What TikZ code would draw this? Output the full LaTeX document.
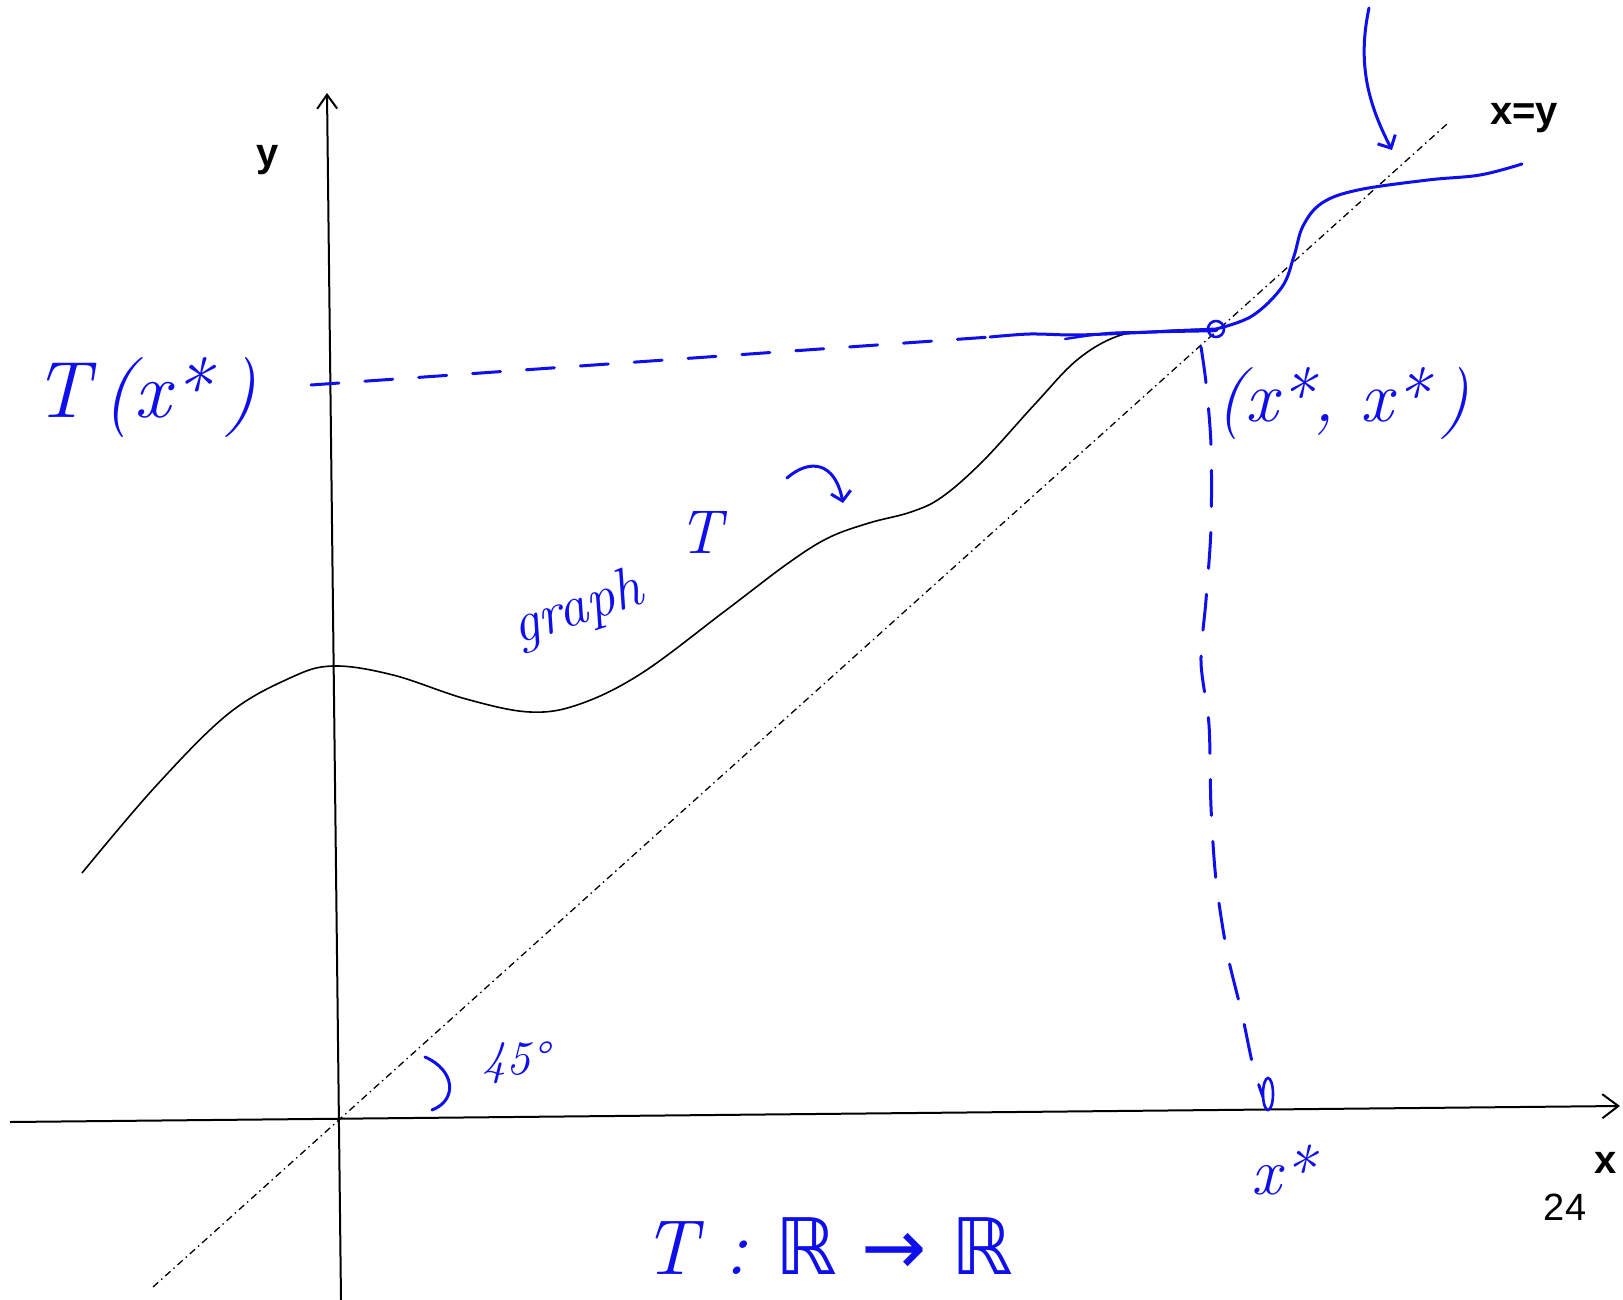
\documentclass[tikz,border=0pt]{standalone}
\usepackage{fontspec}
\newfontfamily\lsans{Liberation Sans}
\newfontfamily\dvsans{DejaVu Sans}
\usetikzlibrary{arrows.meta}
\definecolor{ink}{RGB}{15,15,235}
\begin{document}
\begin{tikzpicture}[x=1pt,y=-1pt,
  axis/.style={line width=2pt,black},
  diag/.style={line width=1.3pt,black,dash pattern=on 7pt off 4pt on 1.5pt off 4pt},
  curve/.style={line width=1.6pt,black},
  inkline/.style={line width=3pt,ink,line cap=round},
  inkdash/.style={inkline,dash pattern=on 28pt off 26pt},
  hand/.style={text=ink,inner sep=0pt},
  typed/.style={inner sep=0pt,font=\lsans\bfseries\fontsize{40}{40}\selectfont}]
\useasboundingbox (0,0) rectangle (1623,1300);
\fill[white] (0,0) rectangle (1623,1300);
% axes
\coordinate (xl) at (10,1122);
\coordinate (xr) at (1620,1106);
\coordinate (yb) at (341,1300);
\coordinate (yt) at (327,93);
\draw[axis,-{Straight Barb[length=16pt,width=24pt,line width=2pt]}] (xl) -- (xr);
\draw[axis,-{Straight Barb[length=14pt,width=20pt,line width=2pt]}] (yb) -- (yt);
% diagonal x=y
\coordinate (d1) at (153,1287);
\coordinate (d2) at (1447,124);
\draw[diag] (d1) -- (d2);
% graph of T
\draw[curve] plot[smooth,tension=0.6] coordinates {(82,873) (155,787) (228,714) (290,678) (333,666) (393,675) (466,699) (530,712) (580,704) (642,673) (725,611) (787,564) (828,538) (869,523) (911,512) (942,497) (983,461) (1035,404) (1077,360) (1118,336) (1159,331) (1211,329)};
% blue continuation
\coordinate (fp) at (1216,329);
\draw[inkline] plot[smooth,tension=0.6] coordinates {(1216,329) (1252,316) (1282,287) (1294,256) (1303,226) (1322,203) (1358,190) (1428,180) (1480,175) (1522,164)};
\draw[inkline] plot[smooth] coordinates {(990,337) (1030,334) (1075,335) (1130,333) (1216,329)};
\draw[inkline,line width=2.4pt] plot[smooth] coordinates {(1065,339) (1110,333) (1160,332) (1216,331)};
\draw[inkline,line width=2.6pt] (fp) circle[radius=8];
% dashed projections
\coordinate (ty) at (311,385);
\coordinate (te) at (990,337);
\draw[inkdash] (ty) -- (te);
\draw[inkdash,dash pattern=on 36pt off 26pt] plot[smooth] coordinates {(1201,347) (1206,383) (1211,445) (1211,528) (1206,600) (1201,662) (1209,725) (1211,807) (1216,880) (1227,952) (1242,1014) (1253,1066) (1263,1097)};
\coordinate (xs) at (1268,1094);
\draw[inkline,line width=2.6pt] (xs) ellipse[x radius=5,y radius=16];
% arrow to blue curve
\coordinate (a1) at (1369,8);
\coordinate (a2) at (1392,150);
\draw[inkline,-{Straight Barb[length=10pt,width=20pt]}] (a1) .. controls (1358,60) and (1366,100) .. (a2);
% arrow to graph
\coordinate (b1) at (787,478);
\coordinate (b2) at (843,503);
\draw[inkline,-{Straight Barb[length=9pt,width=20pt]}] (b1) .. controls (810,458) and (835,462) .. (b2);
% angle mark
\coordinate (g1) at (425,1057);
\coordinate (g2) at (432,1110);
\draw[inkline] (g1) .. controls (455,1070) and (458,1100) .. (g2);
% typed labels
\node[typed] (lxy) at (1524,118) {x=y};
\node[typed] (ly) at (268,160) {y};
\node[typed] (lx) at (1606,1163) {x};
\node[inner sep=0pt,font=\lsans\fontsize{38}{38}\selectfont] (lp) at (1565,1207) {24};
% handwritten labels
\node[hand,font=\fontsize{80}{80}\selectfont\itshape] (lTx) at (145,398) {T\,(x*\,)};
\node[hand,font=\fontsize{72}{72}\selectfont\itshape] (lpt) at (1343,404) {(x*, x*\,)};
\node[hand,font=\fontsize{58}{58}\selectfont\itshape,rotate=18] (lgr) at (578,610) {graph};
\node[hand,font=\fontsize{62}{62}\selectfont\itshape] (lT) at (700,532) {T};
\node[hand,font=\fontsize{48}{48}\selectfont\itshape] (l45) at (515,1063) {45°};
\node[hand,font=\fontsize{66}{66}\selectfont\itshape] (lxs) at (1283,1170) {x*};
\node[hand,font=\fontsize{78}{78}\selectfont\itshape,anchor=base,text depth=0pt] (lmap) at (828,1274) {T : {\dvsans\upshape ℝ → ℝ}};
\end{tikzpicture}
\end{document}
